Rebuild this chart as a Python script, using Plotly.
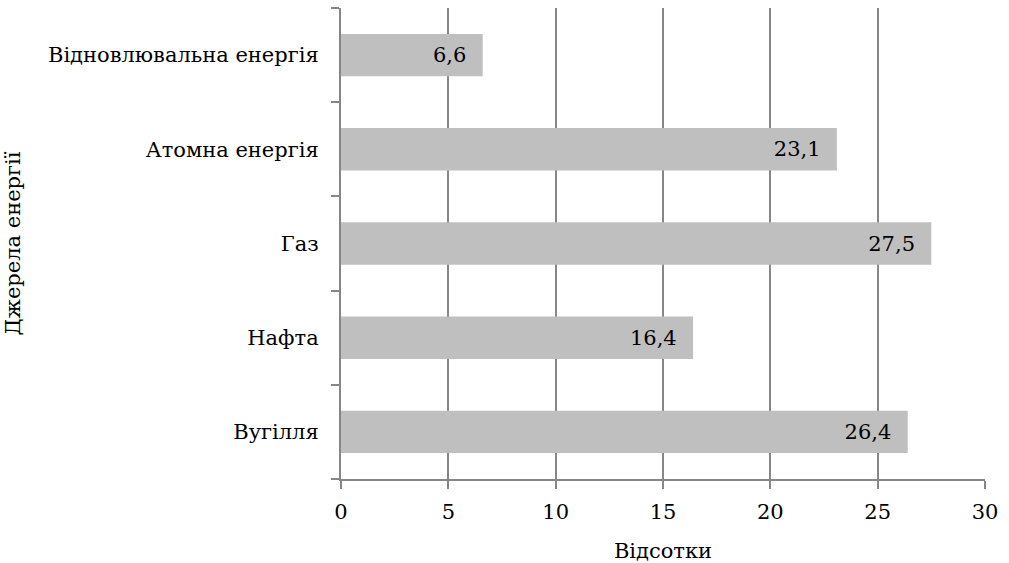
import plotly.graph_objects as go

categories = ["Вугілля", "Нафта", "Газ", "Атомна енергія", "Відновлювальна енергія"]
values = [26.4, 16.4, 27.5, 23.1, 6.6]
labels = ["26,4", "16,4", "27,5", "23,1", "6,6"]
x_ticks = [0, 5, 10, 15, 20, 25, 30]

FONT = "DejaVu Serif"
FS = 21
GRID = "#868686"
NB = "\u00a0"

fig = go.Figure(go.Bar(
    y=categories, x=values, orientation="h",
    marker=dict(color="#bfbfbf", line=dict(width=0)),
    text=[l + NB * 2 for l in labels], textposition="inside", insidetextanchor="end",
    textfont=dict(family=FONT, size=FS, color="black"),
    cliponaxis=False,
))

fig.update_layout(
    width=1009, height=563,
    margin=dict(l=341, r=24, t=8, b=84),
    paper_bgcolor="white", plot_bgcolor="white",
    font=dict(family=FONT, size=FS, color="black"),
    bargap=0.55,
    showlegend=False,
    uniformtext=dict(mode=False),
    xaxis=dict(
        range=[0, 30], tickvals=x_ticks, ticktext=[str(v) for v in x_ticks],
        showgrid=True, gridcolor=GRID, gridwidth=1.5,
        showline=True, linecolor=GRID, linewidth=1.5,
        ticks="outside", ticklen=8, tickcolor=GRID, tickwidth=1.5,
        ticklabelstandoff=5,
        zeroline=False, automargin=False,
        title=dict(text="Відсотки", font=dict(family=FONT, size=FS), standoff=22),
        tickfont=dict(family=FONT, size=FS),
        fixedrange=True,
    ),
    yaxis=dict(
        categoryorder="array", categoryarray=categories,
        showline=True, linecolor=GRID, linewidth=1.5,
        ticks="outside", ticklen=8, tickcolor=GRID, tickwidth=1.5,
        ticklabelstandoff=3,
        tickson="boundaries", showgrid=False, zeroline=False, automargin=False,
        title=dict(text="Джерела енергії", font=dict(family=FONT, size=FS), standoff=22),
        tickfont=dict(family=FONT, size=FS),
        ticksuffix=NB * 2,
        fixedrange=True,
    ),
)

fig.write_html("out.html")
